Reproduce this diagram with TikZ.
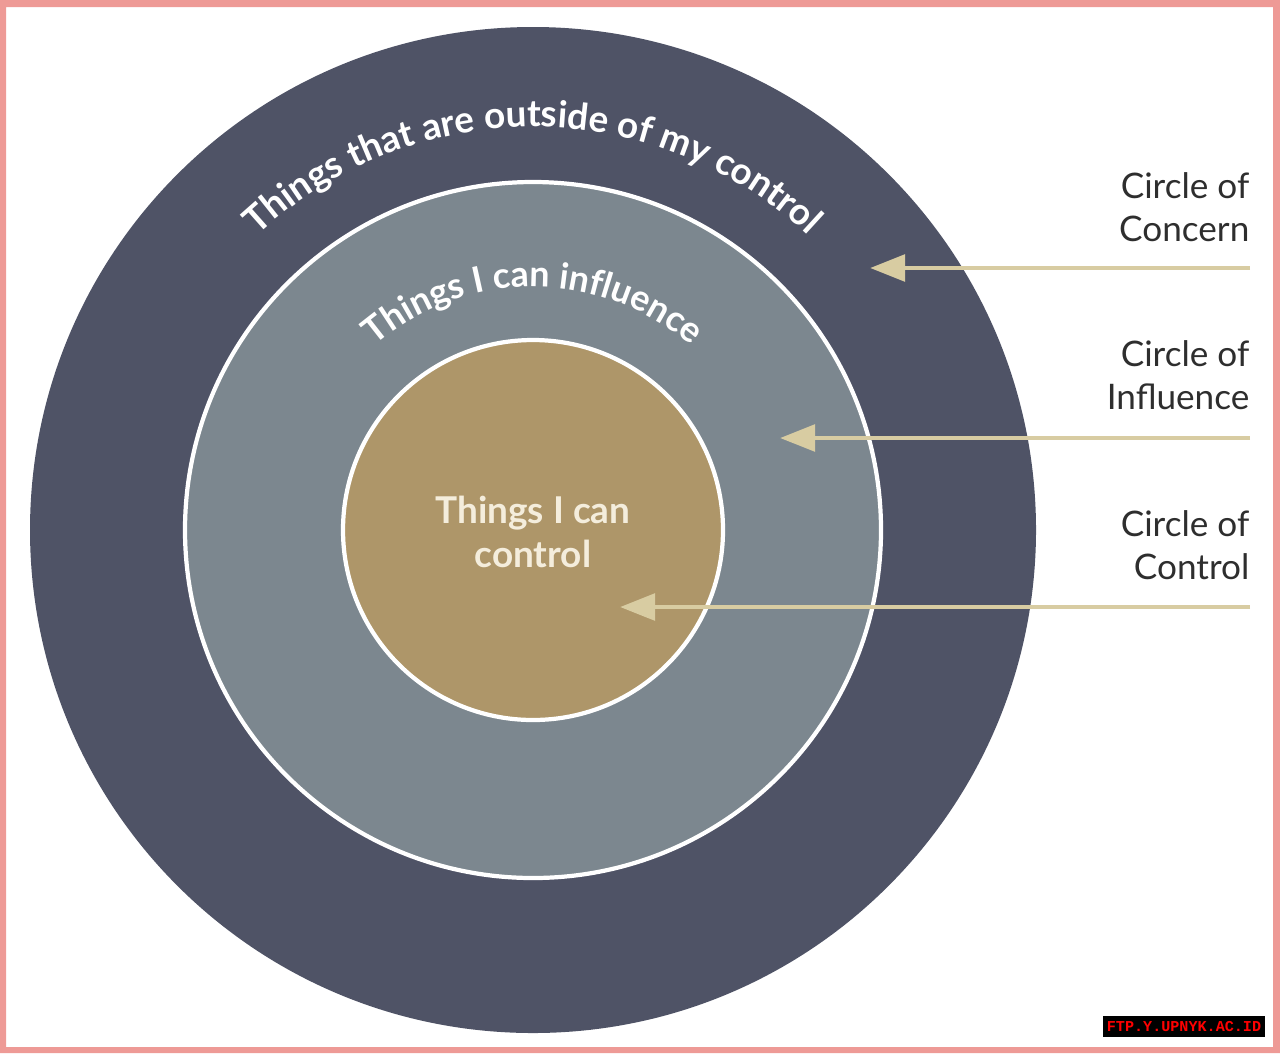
\documentclass[tikz,border=0pt]{standalone}
\usepackage{fontspec}
\setmainfont{Lato}
\setmonofont{Liberation Mono}
\usetikzlibrary{arrows.meta,decorations.text}
\definecolor{concern}{HTML}{4F5366}
\definecolor{influence}{HTML}{7C878F}
\definecolor{controlc}{HTML}{AE9669}
\definecolor{pointer}{HTML}{D8CCA2}
\definecolor{frame}{HTML}{EE9A96}
\definecolor{labeltext}{HTML}{2E2E2E}
\definecolor{cream}{HTML}{F4EDDC}
\begin{document}
\begin{tikzpicture}[x=0.01cm, y=0.01cm, line join=round, >={Triangle[length=10pt,width=7.5pt]},
		ring/.style={draw=white, line width=1.2pt},
		lbl/.style={align=right, anchor=east, inner sep=0pt, text=labeltext, font=\fontsize{10}{12.4}\selectfont},
		ptr/.style={->, draw=pointer, line width=1.4pt},
		arctext/.style={decorate, decoration={text along path, text align=center, text color=white, text={#1}}}]
	\def\cx{533}
	\def\cy{523}
	\useasboundingbox (0,0) rectangle (1280,1053);
	\fill[frame, even odd rule] (0,0) rectangle (1280,1053) (6,6) rectangle (1273,1046);
	\coordinate (O) at (\cx,\cy);
	\fill[concern] (O) circle[radius=503];
	\filldraw[fill=influence, ring] (O) circle[radius=348];
	\filldraw[fill=controlc, ring] (O) circle[radius=190];
	\path[arctext={|\bfseries\fontsize{10.5}{12}\selectfont|Things that are outside of my control}]
		([shift={(150:403)}]O) arc[start angle=150, end angle=30, radius=403];
	\path[arctext={|\bfseries\fontsize{10.2}{12}\selectfont|Things I can influence}]
		([shift={(160:243)}]O) arc[start angle=160, end angle=20, radius=243];
	\node[align=center, text=cream, font=\bfseries\fontsize{10.5}{12.3}\selectfont] (core) at (\cx,521) {Things I can\\control};
	% labels and pointers
	\node[lbl] (concernlbl) at (1250,846) {Circle of\\Concern};
	\node[lbl] (influencelbl) at (1250,678) {Circle of\\Influence};
	\node[lbl] (controllbl) at (1250,508) {Circle of\\Control};
	\coordinate (concernend) at (1250,785);
	\coordinate (influenceend) at (1250,615);
	\coordinate (controlend) at (1250,446);
	\coordinate (concerntip) at (870,785);
	\coordinate (influencetip) at (780,615);
	\coordinate (controltip) at (620,446);
	\draw[ptr] (concernend) -- (concerntip);
	\draw[ptr] (influenceend) -- (influencetip);
	\draw[ptr] (controlend) -- (controltip);
	\node[fill=black, text=red, inner sep=0pt, minimum width=1.62cm, minimum height=0.21cm, font=\ttfamily\bfseries\fontsize{4.3}{5}\selectfont] (stamp) at (1184,26.5) {FTP.Y.UPNYK.AC.ID};
\end{tikzpicture}
\end{document}
